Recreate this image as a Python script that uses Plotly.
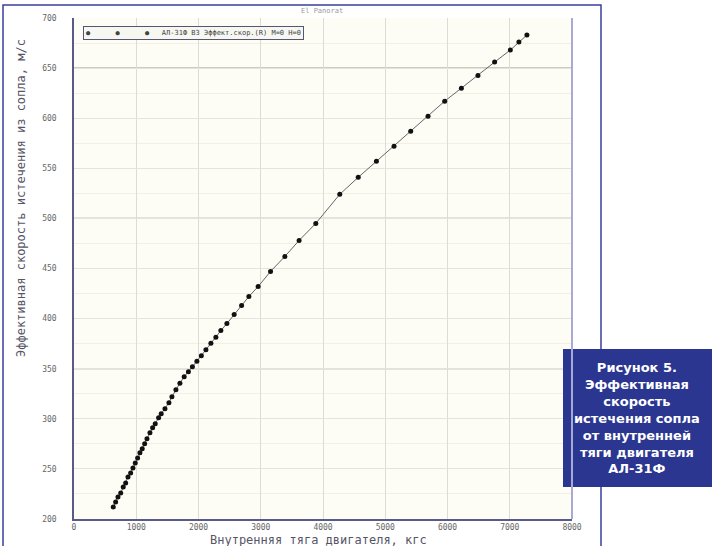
import plotly.graph_objects as go

# Internal thrust, kgf
thrust = [631, 669, 706, 750, 791, 830, 867, 910, 947, 984,
          1022, 1059, 1096, 1135, 1172, 1220, 1263, 1305, 1359, 1401,
          1461, 1525, 1573, 1637, 1701, 1770, 1838, 1902, 1974, 2046,
          2119, 2199, 2279, 2359, 2456, 2573, 2692, 2809, 2958, 3157,
          3387, 3616, 3884, 4269, 4566, 4858, 5141, 5409, 5687, 5955,
          6223, 6489, 6757, 7009, 7147, 7276]
# Effective nozzle exhaust velocity, m/s
velocity = [212, 217, 222, 226, 232, 236, 242, 246, 251, 256,
            261, 266, 270, 275, 280, 286, 291, 295, 301, 305,
            310, 316, 322, 329, 335.5, 342, 347, 352, 357.5, 363,
            369, 375.5, 381.5, 388, 395, 404, 413, 422, 432, 447,
            462, 478, 495, 524, 541, 557, 572, 587, 602, 617,
            630, 642.5, 656, 668, 676, 683]

x_ticks = [0, 1000, 2000, 3000, 4000, 5000, 6000, 7000, 8000]
y_ticks = [200, 250, 300, 350, 400, 450, 500, 550, 600, 650, 700]
major_y = [350, 500, 650]

W, H = 712, 546
L, R, T, B = 74, 572, 18, 519  # plot area in pixels


def px(x):
    return (x - L) / (R - L)


def py(y):
    return (B - y) / (B - T)


mono = "DejaVu Sans Mono"

fig = go.Figure()
fig.add_trace(go.Scatter(
    x=thrust, y=velocity, mode="lines+markers",
    line=dict(color="#666666", width=1),
    marker=dict(color="#111111", size=5, symbol="circle"),
    showlegend=False,
))

shapes = []
# darker reference lines
for v in major_y:
    shapes.append(dict(type="line", xref="paper", yref="y", x0=0, x1=1, y0=v, y1=v,
                       line=dict(color="#9a9a90", width=1.2), layer="below"))
# outer frame of the chart
shapes.append(dict(type="rect", xref="paper", yref="paper",
                   x0=px(3), x1=px(601), y0=py(5), y1=py(548),
                   line=dict(color="#3a3f9a", width=1.5)))
# caption box
shapes.append(dict(type="rect", xref="paper", yref="paper",
                   x0=px(563), x1=px(713), y0=py(487), y1=py(349),
                   fillcolor="#2b3690", line=dict(width=0)))
# right border of plot area
shapes.append(dict(type="line", xref="paper", yref="paper", x0=1, x1=1, y0=0, y1=1,
                   line=dict(color="#a9a9d8", width=2)))

annotations = [
    dict(text="Эффективная скорость истечения из сопла, м/с", textangle=-90,
         xref="paper", yref="paper", x=px(21), y=py(198), showarrow=False,
         xanchor="center", yanchor="middle",
         font=dict(family=mono, size=12, color="#555566")),
    dict(text="Внутренняя тяга двигателя, кгс",
         xref="paper", yref="paper", x=px(318), y=py(540), showarrow=False,
         xanchor="center", yanchor="middle",
         font=dict(family=mono, size=12, color="#555566")),
    dict(text="El Panorat", xref="paper", yref="paper", x=px(322), y=py(11),
         xanchor="center", yanchor="middle",
         showarrow=False, font=dict(family=mono, size=7, color="#9a9aa0")),
    dict(text="●      ●      ●   АЛ-31Ф ВЗ Эффект.скор.(R) М=0 Н=0",
         xref="paper", yref="paper", x=px(83), y=py(33), xanchor="left",
         yanchor="middle",
         showarrow=False, bgcolor="#f7f7f2", bordercolor="#555577", borderwidth=1,
         borderpad=2, font=dict(family=mono, size=7, color="#444444")),
    dict(text="<b>Рисунок 5.<br>Эффективная<br>скорость<br>истечения сопла<br>"
              "от внутренней<br>тяги двигателя<br>АЛ-31Ф</b>",
         xref="paper", yref="paper", x=px(637), y=py(418), showarrow=False,
         xanchor="center", yanchor="middle",
         align="center", font=dict(family="DejaVu Sans", size=13, color="white")),
]

fig.update_layout(
    width=W, height=H,
    margin=dict(l=L, r=W - R, t=T, b=H - B, autoexpand=False),
    paper_bgcolor="white", plot_bgcolor="#fdfdf6",
    shapes=shapes, annotations=annotations,
    xaxis=dict(range=[0, 8000], tickvals=x_ticks, ticktext=[str(v) for v in x_ticks],
               showgrid=True, gridcolor="#dcdcd6", gridwidth=1,
               showline=True, linecolor="#5a5a8a", linewidth=1.5, mirror=False,
               ticks="", tickfont=dict(family=mono, size=8, color="#666666"),
               zeroline=False, fixedrange=True),
    yaxis=dict(range=[200, 700], tickvals=y_ticks, ticktext=[str(v) for v in y_ticks],
               showgrid=True, gridcolor="#e4e4dc", gridwidth=1,
               minor=dict(dtick=25, showgrid=True, gridcolor="#f3efe2"),
               showline=True, linecolor="#5a5a8a", linewidth=1.5,
               ticks="outside", ticklen=14, tickcolor="rgba(0,0,0,0)",
               tickfont=dict(family=mono, size=8, color="#666666"),
               zeroline=False, fixedrange=True),
)

fig.write_html("out.html")
